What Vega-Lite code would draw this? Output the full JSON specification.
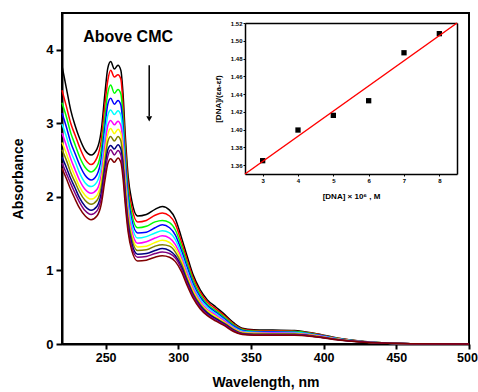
{
 "$schema": "https://vega.github.io/schema/vega-lite/v6.json",
 "width": 407,
 "height": 331,
 "autosize": {"type": "none"},
 "padding": {"left": 62, "top": 13, "right": 9, "bottom": 48},
 "background": "white",
 "config": {
  "view": {"stroke": "#000", "strokeWidth": 2},
  "axis": {"grid": false, "labelFont": "Liberation Sans", "titleFont": "Liberation Sans", "labelFontWeight": "bold", "titleFontWeight": "bold", "labelColor": "#000", "titleColor": "#000", "domainColor": "#000", "tickColor": "#000", "labelFlush": false}
 },
 "datasets": {
  "spectra": [
{"nm":220,"s":1,"A":3.78},{"nm":220,"s":2,"A":3.45},{"nm":220,"s":3,"A":3.28},{"nm":220,"s":4,"A":3.14},{"nm":220,"s":5,"A":2.99},{"nm":220,"s":6,"A":2.87},{"nm":220,"s":7,"A":2.74},{"nm":220,"s":8,"A":2.64},{"nm":220,"s":9,"A":2.54},{"nm":220,"s":10,"A":2.46},{"nm":220,"s":11,"A":2.39},
{"nm":223,"s":1,"A":3.48},{"nm":223,"s":2,"A":3.23},{"nm":223,"s":3,"A":3.09},{"nm":223,"s":4,"A":2.95},{"nm":223,"s":5,"A":2.82},{"nm":223,"s":6,"A":2.70},{"nm":223,"s":7,"A":2.59},{"nm":223,"s":8,"A":2.50},{"nm":223,"s":9,"A":2.40},{"nm":223,"s":10,"A":2.32},{"nm":223,"s":11,"A":2.25},
{"nm":226,"s":1,"A":3.18},{"nm":226,"s":2,"A":3.00},{"nm":226,"s":3,"A":2.87},{"nm":226,"s":4,"A":2.74},{"nm":226,"s":5,"A":2.62},{"nm":226,"s":6,"A":2.52},{"nm":226,"s":7,"A":2.42},{"nm":226,"s":8,"A":2.33},{"nm":226,"s":9,"A":2.25},{"nm":226,"s":10,"A":2.18},{"nm":226,"s":11,"A":2.10},
{"nm":229,"s":1,"A":2.97},{"nm":229,"s":2,"A":2.84},{"nm":229,"s":3,"A":2.71},{"nm":229,"s":4,"A":2.59},{"nm":229,"s":5,"A":2.48},{"nm":229,"s":6,"A":2.37},{"nm":229,"s":7,"A":2.28},{"nm":229,"s":8,"A":2.20},{"nm":229,"s":9,"A":2.12},{"nm":229,"s":10,"A":2.05},{"nm":229,"s":11,"A":1.97},
{"nm":232,"s":1,"A":2.80},{"nm":232,"s":2,"A":2.68},{"nm":232,"s":3,"A":2.55},{"nm":232,"s":4,"A":2.44},{"nm":232,"s":5,"A":2.33},{"nm":232,"s":6,"A":2.23},{"nm":232,"s":7,"A":2.14},{"nm":232,"s":8,"A":2.07},{"nm":232,"s":9,"A":1.99},{"nm":232,"s":10,"A":1.93},{"nm":232,"s":11,"A":1.85},
{"nm":236,"s":1,"A":2.63},{"nm":236,"s":2,"A":2.51},{"nm":236,"s":3,"A":2.40},{"nm":236,"s":4,"A":2.29},{"nm":236,"s":5,"A":2.19},{"nm":236,"s":6,"A":2.10},{"nm":236,"s":7,"A":2.02},{"nm":236,"s":8,"A":1.95},{"nm":236,"s":9,"A":1.87},{"nm":236,"s":10,"A":1.81},{"nm":236,"s":11,"A":1.74},
{"nm":240,"s":1,"A":2.57},{"nm":240,"s":2,"A":2.44},{"nm":240,"s":3,"A":2.34},{"nm":240,"s":4,"A":2.23},{"nm":240,"s":5,"A":2.14},{"nm":240,"s":6,"A":2.05},{"nm":240,"s":7,"A":1.97},{"nm":240,"s":8,"A":1.90},{"nm":240,"s":9,"A":1.82},{"nm":240,"s":10,"A":1.76},{"nm":240,"s":11,"A":1.69},
{"nm":244,"s":1,"A":2.65},{"nm":244,"s":2,"A":2.53},{"nm":244,"s":3,"A":2.41},{"nm":244,"s":4,"A":2.30},{"nm":244,"s":5,"A":2.20},{"nm":244,"s":6,"A":2.10},{"nm":244,"s":7,"A":2.02},{"nm":244,"s":8,"A":1.95},{"nm":244,"s":9,"A":1.87},{"nm":244,"s":10,"A":1.81},{"nm":244,"s":11,"A":1.74},
{"nm":247,"s":1,"A":2.90},{"nm":247,"s":2,"A":2.77},{"nm":247,"s":3,"A":2.64},{"nm":247,"s":4,"A":2.52},{"nm":247,"s":5,"A":2.41},{"nm":247,"s":6,"A":2.30},{"nm":247,"s":7,"A":2.21},{"nm":247,"s":8,"A":2.13},{"nm":247,"s":9,"A":2.05},{"nm":247,"s":10,"A":1.98},{"nm":247,"s":11,"A":1.90},
{"nm":249.5,"s":1,"A":3.40},{"nm":249.5,"s":2,"A":3.25},{"nm":249.5,"s":3,"A":3.09},{"nm":249.5,"s":4,"A":2.95},{"nm":249.5,"s":5,"A":2.82},{"nm":249.5,"s":6,"A":2.69},{"nm":249.5,"s":7,"A":2.59},{"nm":249.5,"s":8,"A":2.49},{"nm":249.5,"s":9,"A":2.39},{"nm":249.5,"s":10,"A":2.31},{"nm":249.5,"s":11,"A":2.22},
{"nm":251.5,"s":1,"A":3.75},{"nm":251.5,"s":2,"A":3.58},{"nm":251.5,"s":3,"A":3.41},{"nm":251.5,"s":4,"A":3.26},{"nm":251.5,"s":5,"A":3.11},{"nm":251.5,"s":6,"A":2.97},{"nm":251.5,"s":7,"A":2.85},{"nm":251.5,"s":8,"A":2.75},{"nm":251.5,"s":9,"A":2.64},{"nm":251.5,"s":10,"A":2.55},{"nm":251.5,"s":11,"A":2.45},
{"nm":253.5,"s":1,"A":3.84},{"nm":253.5,"s":2,"A":3.72},{"nm":253.5,"s":3,"A":3.52},{"nm":253.5,"s":4,"A":3.34},{"nm":253.5,"s":5,"A":3.18},{"nm":253.5,"s":6,"A":3.04},{"nm":253.5,"s":7,"A":2.93},{"nm":253.5,"s":8,"A":2.82},{"nm":253.5,"s":9,"A":2.70},{"nm":253.5,"s":10,"A":2.64},{"nm":253.5,"s":11,"A":2.52},
{"nm":256,"s":1,"A":3.74},{"nm":256,"s":2,"A":3.63},{"nm":256,"s":3,"A":3.41},{"nm":256,"s":4,"A":3.26},{"nm":256,"s":5,"A":3.12},{"nm":256,"s":6,"A":2.98},{"nm":256,"s":7,"A":2.86},{"nm":256,"s":8,"A":2.76},{"nm":256,"s":9,"A":2.65},{"nm":256,"s":10,"A":2.57},{"nm":256,"s":11,"A":2.47},
{"nm":258.5,"s":1,"A":3.79},{"nm":258.5,"s":2,"A":3.66},{"nm":258.5,"s":3,"A":3.46},{"nm":258.5,"s":4,"A":3.31},{"nm":258.5,"s":5,"A":3.17},{"nm":258.5,"s":6,"A":3.03},{"nm":258.5,"s":7,"A":2.92},{"nm":258.5,"s":8,"A":2.82},{"nm":258.5,"s":9,"A":2.71},{"nm":258.5,"s":10,"A":2.63},{"nm":258.5,"s":11,"A":2.53},
{"nm":260.5,"s":1,"A":3.72},{"nm":260.5,"s":2,"A":3.60},{"nm":260.5,"s":3,"A":3.40},{"nm":260.5,"s":4,"A":3.25},{"nm":260.5,"s":5,"A":3.11},{"nm":260.5,"s":6,"A":2.97},{"nm":260.5,"s":7,"A":2.86},{"nm":260.5,"s":8,"A":2.76},{"nm":260.5,"s":9,"A":2.65},{"nm":260.5,"s":10,"A":2.57},{"nm":260.5,"s":11,"A":2.47},
{"nm":262,"s":1,"A":3.40},{"nm":262,"s":2,"A":3.25},{"nm":262,"s":3,"A":3.10},{"nm":262,"s":4,"A":2.96},{"nm":262,"s":5,"A":2.84},{"nm":262,"s":6,"A":2.71},{"nm":262,"s":7,"A":2.61},{"nm":262,"s":8,"A":2.51},{"nm":262,"s":9,"A":2.42},{"nm":262,"s":10,"A":2.34},{"nm":262,"s":11,"A":2.25},
{"nm":263.5,"s":1,"A":2.85},{"nm":263.5,"s":2,"A":2.73},{"nm":263.5,"s":3,"A":2.60},{"nm":263.5,"s":4,"A":2.49},{"nm":263.5,"s":5,"A":2.38},{"nm":263.5,"s":6,"A":2.28},{"nm":263.5,"s":7,"A":2.19},{"nm":263.5,"s":8,"A":2.12},{"nm":263.5,"s":9,"A":2.04},{"nm":263.5,"s":10,"A":1.98},{"nm":263.5,"s":11,"A":1.90},
{"nm":265.5,"s":1,"A":2.28},{"nm":265.5,"s":2,"A":2.18},{"nm":265.5,"s":3,"A":2.08},{"nm":265.5,"s":4,"A":1.99},{"nm":265.5,"s":5,"A":1.91},{"nm":265.5,"s":6,"A":1.82},{"nm":265.5,"s":7,"A":1.76},{"nm":265.5,"s":8,"A":1.70},{"nm":265.5,"s":9,"A":1.63},{"nm":265.5,"s":10,"A":1.58},{"nm":265.5,"s":11,"A":1.52},
{"nm":268,"s":1,"A":1.95},{"nm":268,"s":2,"A":1.86},{"nm":268,"s":3,"A":1.77},{"nm":268,"s":4,"A":1.69},{"nm":268,"s":5,"A":1.62},{"nm":268,"s":6,"A":1.54},{"nm":268,"s":7,"A":1.48},{"nm":268,"s":8,"A":1.43},{"nm":268,"s":9,"A":1.37},{"nm":268,"s":10,"A":1.32},{"nm":268,"s":11,"A":1.27},
{"nm":272,"s":1,"A":1.74},{"nm":272,"s":2,"A":1.66},{"nm":272,"s":3,"A":1.58},{"nm":272,"s":4,"A":1.51},{"nm":272,"s":5,"A":1.44},{"nm":272,"s":6,"A":1.37},{"nm":272,"s":7,"A":1.32},{"nm":272,"s":8,"A":1.27},{"nm":272,"s":9,"A":1.22},{"nm":272,"s":10,"A":1.18},{"nm":272,"s":11,"A":1.13},
{"nm":278,"s":1,"A":1.76},{"nm":278,"s":2,"A":1.68},{"nm":278,"s":3,"A":1.60},{"nm":278,"s":4,"A":1.52},{"nm":278,"s":5,"A":1.46},{"nm":278,"s":6,"A":1.39},{"nm":278,"s":7,"A":1.33},{"nm":278,"s":8,"A":1.28},{"nm":278,"s":9,"A":1.23},{"nm":278,"s":10,"A":1.19},{"nm":278,"s":11,"A":1.14},
{"nm":284,"s":1,"A":1.83},{"nm":284,"s":2,"A":1.75},{"nm":284,"s":3,"A":1.66},{"nm":284,"s":4,"A":1.58},{"nm":284,"s":5,"A":1.51},{"nm":284,"s":6,"A":1.44},{"nm":284,"s":7,"A":1.38},{"nm":284,"s":8,"A":1.33},{"nm":284,"s":9,"A":1.27},{"nm":284,"s":10,"A":1.23},{"nm":284,"s":11,"A":1.18},
{"nm":289,"s":1,"A":1.87},{"nm":289,"s":2,"A":1.78},{"nm":289,"s":3,"A":1.68},{"nm":289,"s":4,"A":1.62},{"nm":289,"s":5,"A":1.54},{"nm":289,"s":6,"A":1.47},{"nm":289,"s":7,"A":1.41},{"nm":289,"s":8,"A":1.35},{"nm":289,"s":9,"A":1.30},{"nm":289,"s":10,"A":1.25},{"nm":289,"s":11,"A":1.20},
{"nm":294,"s":1,"A":1.82},{"nm":294,"s":2,"A":1.74},{"nm":294,"s":3,"A":1.65},{"nm":294,"s":4,"A":1.58},{"nm":294,"s":5,"A":1.51},{"nm":294,"s":6,"A":1.44},{"nm":294,"s":7,"A":1.38},{"nm":294,"s":8,"A":1.33},{"nm":294,"s":9,"A":1.27},{"nm":294,"s":10,"A":1.23},{"nm":294,"s":11,"A":1.18},
{"nm":298,"s":1,"A":1.70},{"nm":298,"s":2,"A":1.63},{"nm":298,"s":3,"A":1.55},{"nm":298,"s":4,"A":1.48},{"nm":298,"s":5,"A":1.42},{"nm":298,"s":6,"A":1.35},{"nm":298,"s":7,"A":1.30},{"nm":298,"s":8,"A":1.25},{"nm":298,"s":9,"A":1.20},{"nm":298,"s":10,"A":1.17},{"nm":298,"s":11,"A":1.12},
{"nm":302,"s":1,"A":1.46},{"nm":302,"s":2,"A":1.40},{"nm":302,"s":3,"A":1.34},{"nm":302,"s":4,"A":1.28},{"nm":302,"s":5,"A":1.23},{"nm":302,"s":6,"A":1.18},{"nm":302,"s":7,"A":1.14},{"nm":302,"s":8,"A":1.10},{"nm":302,"s":9,"A":1.06},{"nm":302,"s":10,"A":1.03},{"nm":302,"s":11,"A":0.99},
{"nm":306,"s":1,"A":1.20},{"nm":306,"s":2,"A":1.15},{"nm":306,"s":3,"A":1.10},{"nm":306,"s":4,"A":1.05},{"nm":306,"s":5,"A":1.00},{"nm":306,"s":6,"A":0.96},{"nm":306,"s":7,"A":0.92},{"nm":306,"s":8,"A":0.89},{"nm":306,"s":9,"A":0.86},{"nm":306,"s":10,"A":0.83},{"nm":306,"s":11,"A":0.80},
{"nm":310,"s":1,"A":0.95},{"nm":310,"s":2,"A":0.91},{"nm":310,"s":3,"A":0.87},{"nm":310,"s":4,"A":0.83},{"nm":310,"s":5,"A":0.79},{"nm":310,"s":6,"A":0.76},{"nm":310,"s":7,"A":0.73},{"nm":310,"s":8,"A":0.70},{"nm":310,"s":9,"A":0.68},{"nm":310,"s":10,"A":0.66},{"nm":310,"s":11,"A":0.63},
{"nm":315,"s":1,"A":0.74},{"nm":315,"s":2,"A":0.71},{"nm":315,"s":3,"A":0.67},{"nm":315,"s":4,"A":0.64},{"nm":315,"s":5,"A":0.61},{"nm":315,"s":6,"A":0.58},{"nm":315,"s":7,"A":0.56},{"nm":315,"s":8,"A":0.54},{"nm":315,"s":9,"A":0.52},{"nm":315,"s":10,"A":0.50},{"nm":315,"s":11,"A":0.48},
{"nm":320,"s":1,"A":0.60},{"nm":320,"s":2,"A":0.57},{"nm":320,"s":3,"A":0.54},{"nm":320,"s":4,"A":0.52},{"nm":320,"s":5,"A":0.50},{"nm":320,"s":6,"A":0.47},{"nm":320,"s":7,"A":0.45},{"nm":320,"s":8,"A":0.43},{"nm":320,"s":9,"A":0.42},{"nm":320,"s":10,"A":0.40},{"nm":320,"s":11,"A":0.385},
{"nm":326,"s":1,"A":0.50},{"nm":326,"s":2,"A":0.475},{"nm":326,"s":3,"A":0.45},{"nm":326,"s":4,"A":0.43},{"nm":326,"s":5,"A":0.41},{"nm":326,"s":6,"A":0.39},{"nm":326,"s":7,"A":0.37},{"nm":326,"s":8,"A":0.35},{"nm":326,"s":9,"A":0.34},{"nm":326,"s":10,"A":0.325},{"nm":326,"s":11,"A":0.31},
{"nm":332,"s":1,"A":0.40},{"nm":332,"s":2,"A":0.38},{"nm":332,"s":3,"A":0.36},{"nm":332,"s":4,"A":0.34},{"nm":332,"s":5,"A":0.32},{"nm":332,"s":6,"A":0.31},{"nm":332,"s":7,"A":0.29},{"nm":332,"s":8,"A":0.28},{"nm":332,"s":9,"A":0.27},{"nm":332,"s":10,"A":0.26},{"nm":332,"s":11,"A":0.245},
{"nm":338,"s":1,"A":0.29},{"nm":338,"s":2,"A":0.275},{"nm":338,"s":3,"A":0.26},{"nm":338,"s":4,"A":0.245},{"nm":338,"s":5,"A":0.23},{"nm":338,"s":6,"A":0.22},{"nm":338,"s":7,"A":0.21},{"nm":338,"s":8,"A":0.20},{"nm":338,"s":9,"A":0.19},{"nm":338,"s":10,"A":0.18},{"nm":338,"s":11,"A":0.17},
{"nm":344,"s":1,"A":0.215},{"nm":344,"s":2,"A":0.205},{"nm":344,"s":3,"A":0.195},{"nm":344,"s":4,"A":0.185},{"nm":344,"s":5,"A":0.175},{"nm":344,"s":6,"A":0.165},{"nm":344,"s":7,"A":0.155},{"nm":344,"s":8,"A":0.15},{"nm":344,"s":9,"A":0.14},{"nm":344,"s":10,"A":0.135},{"nm":344,"s":11,"A":0.13},
{"nm":352,"s":1,"A":0.195},{"nm":352,"s":2,"A":0.185},{"nm":352,"s":3,"A":0.175},{"nm":352,"s":4,"A":0.165},{"nm":352,"s":5,"A":0.16},{"nm":352,"s":6,"A":0.15},{"nm":352,"s":7,"A":0.145},{"nm":352,"s":8,"A":0.135},{"nm":352,"s":9,"A":0.13},{"nm":352,"s":10,"A":0.125},{"nm":352,"s":11,"A":0.12},
{"nm":365,"s":1,"A":0.19},{"nm":365,"s":2,"A":0.18},{"nm":365,"s":3,"A":0.17},{"nm":365,"s":4,"A":0.165},{"nm":365,"s":5,"A":0.155},{"nm":365,"s":6,"A":0.15},{"nm":365,"s":7,"A":0.14},{"nm":365,"s":8,"A":0.135},{"nm":365,"s":9,"A":0.13},{"nm":365,"s":10,"A":0.125},{"nm":365,"s":11,"A":0.12},
{"nm":380,"s":1,"A":0.185},{"nm":380,"s":2,"A":0.175},{"nm":380,"s":3,"A":0.17},{"nm":380,"s":4,"A":0.16},{"nm":380,"s":5,"A":0.155},{"nm":380,"s":6,"A":0.145},{"nm":380,"s":7,"A":0.14},{"nm":380,"s":8,"A":0.135},{"nm":380,"s":9,"A":0.13},{"nm":380,"s":10,"A":0.125},{"nm":380,"s":11,"A":0.12},
{"nm":395,"s":1,"A":0.14},{"nm":395,"s":2,"A":0.135},{"nm":395,"s":3,"A":0.13},{"nm":395,"s":4,"A":0.125},{"nm":395,"s":5,"A":0.12},{"nm":395,"s":6,"A":0.115},{"nm":395,"s":7,"A":0.11},{"nm":395,"s":8,"A":0.105},{"nm":395,"s":9,"A":0.10},{"nm":395,"s":10,"A":0.10},{"nm":395,"s":11,"A":0.095},
{"nm":410,"s":1,"A":0.08},{"nm":410,"s":2,"A":0.077},{"nm":410,"s":3,"A":0.074},{"nm":410,"s":4,"A":0.07},{"nm":410,"s":5,"A":0.068},{"nm":410,"s":6,"A":0.065},{"nm":410,"s":7,"A":0.063},{"nm":410,"s":8,"A":0.061},{"nm":410,"s":9,"A":0.059},{"nm":410,"s":10,"A":0.057},{"nm":410,"s":11,"A":0.055},
{"nm":425,"s":1,"A":0.04},{"nm":425,"s":2,"A":0.038},{"nm":425,"s":3,"A":0.037},{"nm":425,"s":4,"A":0.035},{"nm":425,"s":5,"A":0.034},{"nm":425,"s":6,"A":0.033},{"nm":425,"s":7,"A":0.032},{"nm":425,"s":8,"A":0.031},{"nm":425,"s":9,"A":0.03},{"nm":425,"s":10,"A":0.029},{"nm":425,"s":11,"A":0.028},
{"nm":440,"s":1,"A":0.017},{"nm":440,"s":2,"A":0.016},{"nm":440,"s":3,"A":0.016},{"nm":440,"s":4,"A":0.015},{"nm":440,"s":5,"A":0.015},{"nm":440,"s":6,"A":0.014},{"nm":440,"s":7,"A":0.014},{"nm":440,"s":8,"A":0.013},{"nm":440,"s":9,"A":0.013},{"nm":440,"s":10,"A":0.012},{"nm":440,"s":11,"A":0.012},
{"nm":460,"s":1,"A":0.005},{"nm":460,"s":2,"A":0.005},{"nm":460,"s":3,"A":0.005},{"nm":460,"s":4,"A":0.005},{"nm":460,"s":5,"A":0.005},{"nm":460,"s":6,"A":0.004},{"nm":460,"s":7,"A":0.004},{"nm":460,"s":8,"A":0.004},{"nm":460,"s":9,"A":0.004},{"nm":460,"s":10,"A":0.004},{"nm":460,"s":11,"A":0.004},
{"nm":500,"s":1,"A":0},{"nm":500,"s":2,"A":0},{"nm":500,"s":3,"A":0},{"nm":500,"s":4,"A":0},{"nm":500,"s":5,"A":0},{"nm":500,"s":6,"A":0},{"nm":500,"s":7,"A":0},{"nm":500,"s":8,"A":0},{"nm":500,"s":9,"A":0},{"nm":500,"s":10,"A":0},{"nm":500,"s":11,"A":0}
  ],
  "inset": [
   {"dna": 3, "ratio": 1.365},
   {"dna": 4, "ratio": 1.3995},
   {"dna": 5, "ratio": 1.416},
   {"dna": 6, "ratio": 1.4325},
   {"dna": 7, "ratio": 1.4865},
   {"dna": 8, "ratio": 1.508}
  ],
  "fit": [
   {"dna": 2.5, "ratio": 1.35},
   {"dna": 8.5, "ratio": 1.52}
  ]
 },
 "layer": [
  {
   "layer": [
    {
     "data": {"name": "spectra"},
     "mark": {"type": "line", "strokeWidth": 1.5, "interpolate": "monotone"},
     "encoding": {
      "x": {"field": "nm", "type": "quantitative", "scale": {"domain": [220, 500], "nice": false, "zero": false},
            "axis": {"values": [250, 300, 350, 400, 450, 500], "format": "d", "labelFontSize": 12.5, "labelOffset": {"condition": {"test": "datum.value === 500", "value": -2}, "value": 0}, "tickSize": 5, "tickWidth": 2, "domainWidth": 2, "labelPadding": 2, "title": "Wavelength, nm", "titleFontSize": 14, "titlePadding": 12}},
      "y": {"field": "A", "type": "quantitative", "scale": {"domain": [0, 4.5], "nice": false},
            "axis": {"values": [0, 1, 2, 3, 4], "format": "d", "labelFontSize": 13, "tickSize": 6, "tickWidth": 2, "domainWidth": 2, "labelPadding": 3, "title": "Absorbance", "titleFontSize": 14, "titlePadding": 20}},
      "color": {"field": "s", "type": "nominal", "legend": null,
                "scale": {"domain": [1, 2, 3, 4, 5, 6, 7, 8, 9, 10, 11],
                          "range": ["#000000", "#ff0000", "#00ff00", "#0000ff", "#00ffff", "#ff00ff", "#ffff00", "#808000", "#000080", "#800080", "#800000"]}}
     }
    },
    {
     "data": {"values": [{}]},
     "mark": {"type": "text", "text": "Above CMC", "font": "Liberation Sans", "fontWeight": "bold", "fontSize": 16, "color": "#000", "align": "center", "baseline": "middle"},
     "encoding": {
      "x": {"datum": 265.5, "type": "quantitative"},
      "y": {"datum": 4.18, "type": "quantitative"}
     }
    },
    {
     "data": {"values": [{}]},
     "mark": {"type": "rule", "color": "#000", "strokeWidth": 1.5},
     "encoding": {
      "x": {"datum": 280, "type": "quantitative"},
      "y": {"datum": 3.79, "type": "quantitative"},
      "y2": {"datum": 3.1}
     }
    },
    {
     "data": {"values": [{}]},
     "mark": {"type": "point", "shape": "triangle-down", "filled": true, "color": "#000", "size": 35, "opacity": 1},
     "encoding": {
      "x": {"datum": 280, "type": "quantitative"},
      "y": {"datum": 3.06, "type": "quantitative"}
     }
    }
   ]
  },
  {
   "data": {"name": "inset"},
   "mark": {"type": "point", "shape": "square", "filled": true, "color": "#000", "size": 28, "opacity": 1},
   "encoding": {
    "x": {"field": "dna", "type": "quantitative", "scale": {"domain": [2.5, 8.5], "range": [183, 395], "nice": false, "zero": false},
          "axis": {"orient": "bottom", "offset": -170, "values": [3, 4, 5, 6, 7, 8], "labelFontSize": 6, "tickSize": 2, "tickWidth": 1, "domainWidth": 1.5, "labelPadding": 1, "title": "[DNA] × 10⁶ , M", "titleFontSize": 8, "titlePadding": 9}},
    "y": {"field": "ratio", "type": "quantitative", "scale": {"domain": [1.35, 1.52], "range": [161, 10], "nice": false, "zero": false},
          "axis": {"orient": "left", "offset": -183, "values": [1.36, 1.38, 1.4, 1.42, 1.44, 1.46, 1.48, 1.5, 1.52], "format": ".2f", "labelFontSize": 6, "tickSize": 2, "tickWidth": 1, "domainWidth": 1.5, "labelPadding": 1, "title": "[DNA]/(εa-εf)", "titleFontSize": 8, "titlePadding": 8}}
   }
  },
  {
   "data": {"name": "fit"},
   "mark": {"type": "line", "color": "#ff0000", "strokeWidth": 1.5},
   "encoding": {
    "x": {"field": "dna", "type": "quantitative", "scale": {"domain": [2.5, 8.5], "range": [183, 395], "nice": false, "zero": false},
          "axis": {"orient": "top", "offset": -10, "labels": false, "ticks": false, "title": null, "domainWidth": 1.5}},
    "y": {"field": "ratio", "type": "quantitative", "scale": {"domain": [1.35, 1.52], "range": [161, 10], "nice": false, "zero": false},
          "axis": {"orient": "right", "offset": -12, "labels": false, "ticks": false, "title": null, "domainWidth": 1.5}}
   }
  }
 ],
 "resolve": {"scale": {"x": "independent", "y": "independent"}, "axis": {"x": "independent", "y": "independent"}}
}
